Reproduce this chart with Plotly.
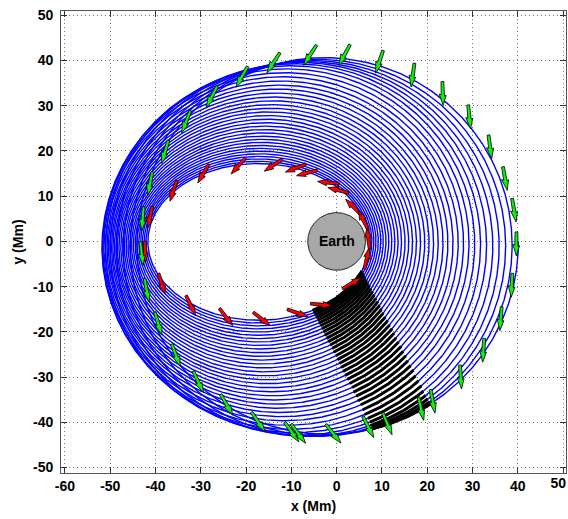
import numpy as np
import plotly.graph_objects as go

# ---- Orbit elements at the start of each revolution (Mm, deg) ----
perigee_radius = [7.00, 7.38, 7.79, 8.23, 8.70, 9.21, 9.74, 10.30, 10.90, 11.52,
                  12.18, 12.86, 13.58, 14.33, 15.11, 15.91, 16.75, 17.62, 18.52, 19.45,
                  20.41, 21.40, 22.42, 23.48, 24.56, 25.68, 26.83, 28.01, 29.22, 30.46,
                  31.73, 33.03, 34.37, 35.73, 37.13, 38.56, 39.96]
apogee_radius = [41.5, 41.9, 42.3, 42.7, 43.1, 43.5, 43.9, 44.3, 44.7, 45.1,
                 45.5, 45.9, 46.3, 46.7, 47.1, 47.5, 47.9, 48.3, 48.6, 48.9,
                 49.3, 49.6, 49.9, 50.3, 50.6, 50.9, 51.3, 51.6, 51.8, 52.0,
                 51.6, 50.8, 49.6, 48.2, 46.6, 45.1, 43.6]
perigee_angle = [0.0, 0.2, 0.4, 0.5, 0.7, 0.9, 1.1, 1.3, 1.4, 1.6,
                 1.8, 2.0, 2.1, 2.3, 2.5, 2.7, 2.9, 3.0, 3.2, 3.4,
                 3.6, 3.8, 3.9, 4.1, 4.3, 4.5, 4.6, 4.8, 5.0, 6.0,
                 7.5, 9.5, 12.0, 15.0, 18.0, 21.5, 25.0]

EARTH_RADIUS = 6.378

# Earth shadow strip: axis direction (deg) and lateral limits (Mm)
shadow_axis_deg = -63.0
shadow_lateral = (-11.6, 2.0)

# ---- Thrust direction samples: first orbit (red) ----
red_x = [-41.22, -42.32, -38.63, -32.23, -24.43, -16.55, -8.64, -3.38, 3.34, 6.65,
         7.00, 5.90, 3.69, 0.38, -1.83, -6.54, -9.08, -13.98, -21.71, -29.45, -36.07]
red_y = [5.42, -2.32, -9.34, -14.12, -16.71, -17.15, -15.82, -13.98, -9.25, -3.81,
         0.62, 4.69, 7.63, 11.33, 13.01, 15.15, 16.19, 16.86, 16.70, 15.00, 11.17]
red_dir = [-102, -88, -72, -64, -52, -37.6, -19, -5, 31, 78,
           98, 117, 135, 166, 174, -165, -159, -146, -131.5, -120.5, -108]

# ---- Thrust direction samples: final orbit (green) ----
green_x = [-5.88, -13.98, -20.96, -27.59, -33.27, -37.91, -41.22, -42.83, -43.05, -41.95,
           -39.39, -35.48, -30.55, -24.28, -17.30, -9.92, -8.46, -0.73, 7.00, 11.20,
           18.64, 21.23, 27.41, 32.41, 36.25, 38.68, 39.70, 39.19, 37.20, 33.89,
           29.31, 23.44, 16.81, 9.43, 1.70]
green_y = [41.19, 39.49, 36.39, 31.97, 26.44, 19.80, 12.79, 5.04, -2.70, -10.80,
           -18.19, -25.18, -31.08, -36.11, -39.93, -42.15, -42.52, -42.52, -41.04, -40.31,
           -36.99, -35.35, -29.98, -24.07, -17.08, -9.69, -0.55, 6.90, 13.89, 20.91,
           27.54, 32.70, 36.77, 39.71, 41.19]
green_dir = [-122.5, -122.5, -119, -117, -111, -106, -101, -94, -83, -79,
             -73, -69, -64, -59.5, -55, -54, -53, -51, -63, -67,
             -77, -79, -86, -93.5, -94, -92.5, -90, -80, -79.5, -82,
             -84, -88, -98, -108, -117.8]

x_ticks = [-60, -50, -40, -30, -20, -10, 0, 10, 20, 30, 40, 50]
y_ticks = [-50, -40, -30, -20, -10, 0, 10, 20, 30, 40, 50]

X_RANGE = [-60.88, 50.66]
Y_RANGE = [-51.2, 50.95]

# ---- Trajectory: conic sections with elements varying per revolution ----
n_rev = len(perigee_radius) - 1
rev_idx = np.arange(n_rev + 1)
theta = np.linspace(0.0, 2 * np.pi * n_rev, n_rev * 900 + 1)
k = theta / (2 * np.pi)
rp = np.interp(k, rev_idx, perigee_radius)
ra = np.interp(k, rev_idx, apogee_radius)
w = np.radians(np.interp(k, rev_idx, perigee_angle))
p = 2 * rp * ra / (rp + ra)
e = (ra - rp) / (ra + rp)
r = p / (1 + e * np.cos(theta - w))
tx = r * np.cos(theta)
ty = r * np.sin(theta)

phi = np.radians(shadow_axis_deg)
along = tx * np.cos(phi) + ty * np.sin(phi)
across = tx * np.cos(phi + np.pi / 2) + ty * np.sin(phi + np.pi / 2)
shadow = (along > 0) & (across >= shadow_lateral[0]) & (across <= shadow_lateral[1])


def dilate(mask):
    out = mask.copy()
    out[1:] |= mask[:-1]
    out[:-1] |= mask[1:]
    return out


sun_mask = dilate(~shadow)
dark_mask = dilate(shadow)
bx = np.where(sun_mask, tx, np.nan)
by = np.where(sun_mask, ty, np.nan)
kx = np.where(dark_mask, tx, np.nan)
ky = np.where(dark_mask, ty, np.nan)


def arrow_paths(xs, ys, dirs, length):
    """Filled arrow outlines (data units) centred on each sample point."""
    hl = 0.45 * length
    hw = 0.8
    sw = 0.36
    local = [(-length / 2, -sw * 0.8), (length / 2 - hl, -sw), (length / 2 - hl - 0.2, -hw),
             (length / 2, 0.0), (length / 2 - hl + 0.1, hw * 0.9), (length / 2 - hl + 0.3, sw),
             (-length / 2, sw * 0.9), (-length / 2, -sw * 0.8)]
    px, py = [], []
    for xc, yc, d in zip(xs, ys, dirs):
        a = np.radians(d)
        ca, sa = np.cos(a), np.sin(a)
        for s, t in local:
            px.append(xc + s * ca - t * sa)
            py.append(yc + s * sa + t * ca)
        px.append(None)
        py.append(None)
    return px, py


fig = go.Figure()

fig.add_trace(go.Scatter(x=bx, y=by, mode="lines", line=dict(color="#0000ff", width=1.4),
                         hoverinfo="skip"))
fig.add_trace(go.Scatter(x=kx, y=ky, mode="lines", line=dict(color="black", width=3),
                         hoverinfo="skip"))

ang = np.linspace(0, 2 * np.pi, 181)
fig.add_trace(go.Scatter(x=EARTH_RADIUS * np.cos(ang), y=EARTH_RADIUS * np.sin(ang),
                         mode="lines", fill="toself", fillcolor="#a8a8a8",
                         line=dict(color="#222222", width=1), hoverinfo="skip"))

rx, ry = arrow_paths(red_x, red_y, red_dir, 4.8)
fig.add_trace(go.Scatter(x=rx, y=ry, mode="lines", fill="toself", fillcolor="#ff0000",
                         line=dict(color="black", width=0.8), hoverinfo="skip"))
gx, gy = arrow_paths(green_x, green_y, green_dir, 5.3)
fig.add_trace(go.Scatter(x=gx, y=gy, mode="lines", fill="toself", fillcolor="#10f010",
                         line=dict(color="black", width=0.8), hoverinfo="skip"))

# empty trace that keeps the edge-label axis (x2) rendered
fig.add_trace(go.Scatter(x=[None], y=[None], xaxis="x2", yaxis="y", mode="lines",
                         hoverinfo="skip"))

label_font = dict(family="Liberation Sans", size=14, color="black", weight="bold")

fig.add_annotation(x=0, y=0, text="Earth", showarrow=False, font=label_font)

axis_common = dict(
    showline=True, linecolor="#555555", linewidth=1, mirror="ticks",
    ticks="inside", ticklen=6, tickcolor="#333333", tickwidth=1,
    showgrid=True, gridcolor="#777777", griddash="1px,3px", gridwidth=1,
    zeroline=False, automargin=False, tickfont=label_font,
)

# main x axis labels every tick except the last one, which sits on the page
# edge and is labelled by the overlay axis below, right-aligned to its tick
fig.update_layout(
    xaxis=dict(range=X_RANGE, tickvals=x_ticks,
               ticktext=[str(v) for v in x_ticks[:-1]] + [""],
               title=dict(text="x (Mm)", standoff=8, font=label_font),
               **axis_common),
    xaxis2=dict(range=X_RANGE, overlaying="x", side="bottom", anchor="y",
                tickvals=[x_ticks[-1]], ticktext=[str(x_ticks[-1])],
                ticklabelposition="outside left", ticklabelshift=3,
                ticks="", showline=False, showgrid=False, zeroline=False,
                automargin=False, tickfont=label_font),
    yaxis=dict(range=Y_RANGE, tickvals=y_ticks,
               ticktext=[f"{v} " for v in y_ticks],
               title=dict(text="y (Mm)", standoff=6, font=label_font),
               **axis_common),
)

fig.update_layout(width=568, height=519, margin=dict(l=61, r=2, t=11, b=46),
                  plot_bgcolor="white", paper_bgcolor="white", showlegend=False)

fig.write_html("out.html")
